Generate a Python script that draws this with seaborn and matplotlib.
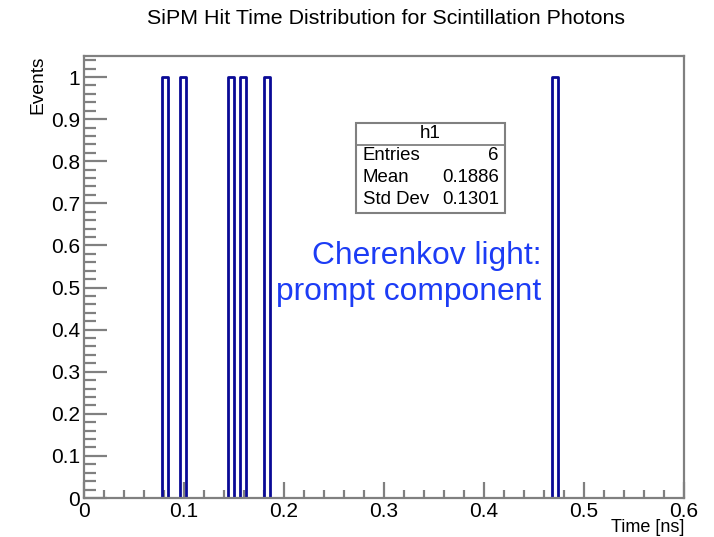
import matplotlib
matplotlib.use("Agg")
import matplotlib.pyplot as plt
from matplotlib.patches import Rectangle
from matplotlib.lines import Line2D
from matplotlib.ticker import MultipleLocator
import numpy as np
import seaborn as sns

# Photon hit times at the SiPM [ns]
hit_times = [0.0794, 0.0975, 0.1459, 0.1579, 0.1819, 0.4688]
n_bins = 100
x_range = (0.0, 0.6)
y_max = 1.05

hist_name = "h1"
title = "SiPM Hit Time Distribution for Scintillation Photons"
x_title = "Time [ns]"
y_title = "Events"
note = "Cherenkov light:\nprompt component"

sns.set_theme(style="white")
plt.rcParams["font.family"] = ["Liberation Sans", "DejaVu Sans"]
plt.rcParams["text.color"] = "black"
plt.rcParams["axes.labelcolor"] = "black"

fig = plt.figure(figsize=(7.14, 5.37), dpi=100)
ax = fig.add_axes([84 / 714, 39 / 537, 600 / 714, 442 / 537])

line_col = "#0a0a96"
frame_col = "#808080"

sns.histplot(x=hit_times, bins=n_bins, binrange=x_range, element="step",
             fill=False, color=line_col, linewidth=2.0, ax=ax)

ax.set_xlim(*x_range)
ax.set_ylim(0, y_max)

for s in ax.spines.values():
    s.set_color(frame_col)
    s.set_linewidth(1.6)

ax.xaxis.set_major_locator(MultipleLocator(0.1))
ax.xaxis.set_minor_locator(MultipleLocator(0.02))
ax.yaxis.set_major_locator(MultipleLocator(0.1))
ax.yaxis.set_minor_locator(MultipleLocator(0.02))
ax.xaxis.set_major_formatter(plt.FuncFormatter(lambda v, p: f"{v:g}"))
ax.yaxis.set_major_formatter(plt.FuncFormatter(lambda v, p: f"{v:g}"))

ax.tick_params(axis="x", which="major", direction="in", length=11.5, width=1.6,
               color=frame_col, labelsize=15, pad=3, labelcolor="black")
ax.tick_params(axis="x", which="minor", direction="in", length=5.8, width=1.6,
               color=frame_col)
ax.tick_params(axis="y", which="major", direction="in", length=16.5, width=1.6,
               color=frame_col, labelsize=15, pad=3, labelcolor="black")
ax.tick_params(axis="y", which="minor", direction="in", length=8.6, width=1.6,
               color=frame_col)
ax.tick_params(bottom=True, left=True, top=False, right=False, which="both")

ax.set_xlabel(x_title, fontsize=13.0, loc="right")
ax.xaxis.label.set_va("bottom")
ax.xaxis.set_label_coords(684 / 714, 1.5 / 537, transform=fig.transFigure)
ax.set_ylabel(y_title, fontsize=13.8, loc="top")
ax.yaxis.set_label_coords(-0.063, 1.0)

fig.text(386 / 714, 1 - 18 / 537, title, ha="center", va="center",
         fontsize=15.4)

# Statistics box
t = np.asarray(hit_times)
entries = len(t)
mean = t.mean()
std = t.std()
bx0, bx1 = 356 / 714, 505 / 714
by0, by1 = 1 - 213 / 537, 1 - 123 / 537
fig.add_artist(Rectangle((bx0, by0), bx1 - bx0, by1 - by0, transform=fig.transFigure,
                         facecolor="white", edgecolor=frame_col, linewidth=1.5,
                         zorder=5))
hy = 1 - 145 / 537
fig.add_artist(Line2D([bx0, bx1], [hy, hy], transform=fig.transFigure,
                      color=frame_col, linewidth=1.3, zorder=6))
fig.text((bx0 + bx1) / 2, 1 - 134 / 537, hist_name, ha="center", va="center",
         fontsize=13.6, zorder=7)
rows = [("Entries", f"{entries:d}"), ("Mean", f"{mean:.4f}"),
        ("Std Dev", f"{std:.4f}")]
for i, (lab, val) in enumerate(rows):
    yy = 1 - (156 + 22 * i) / 537
    fig.text(363 / 714, yy, lab, ha="left", va="center", fontsize=13.4, zorder=7)
    fig.text(499 / 714, yy, val, ha="right", va="center", fontsize=13.4, zorder=7)

fig.text(541 / 714, 1 - 274 / 537, note, ha="right", va="center",
         multialignment="right", fontsize=22.9, color="#1c3cf5", linespacing=1.27)

fig.savefig("out.png", dpi=100)
